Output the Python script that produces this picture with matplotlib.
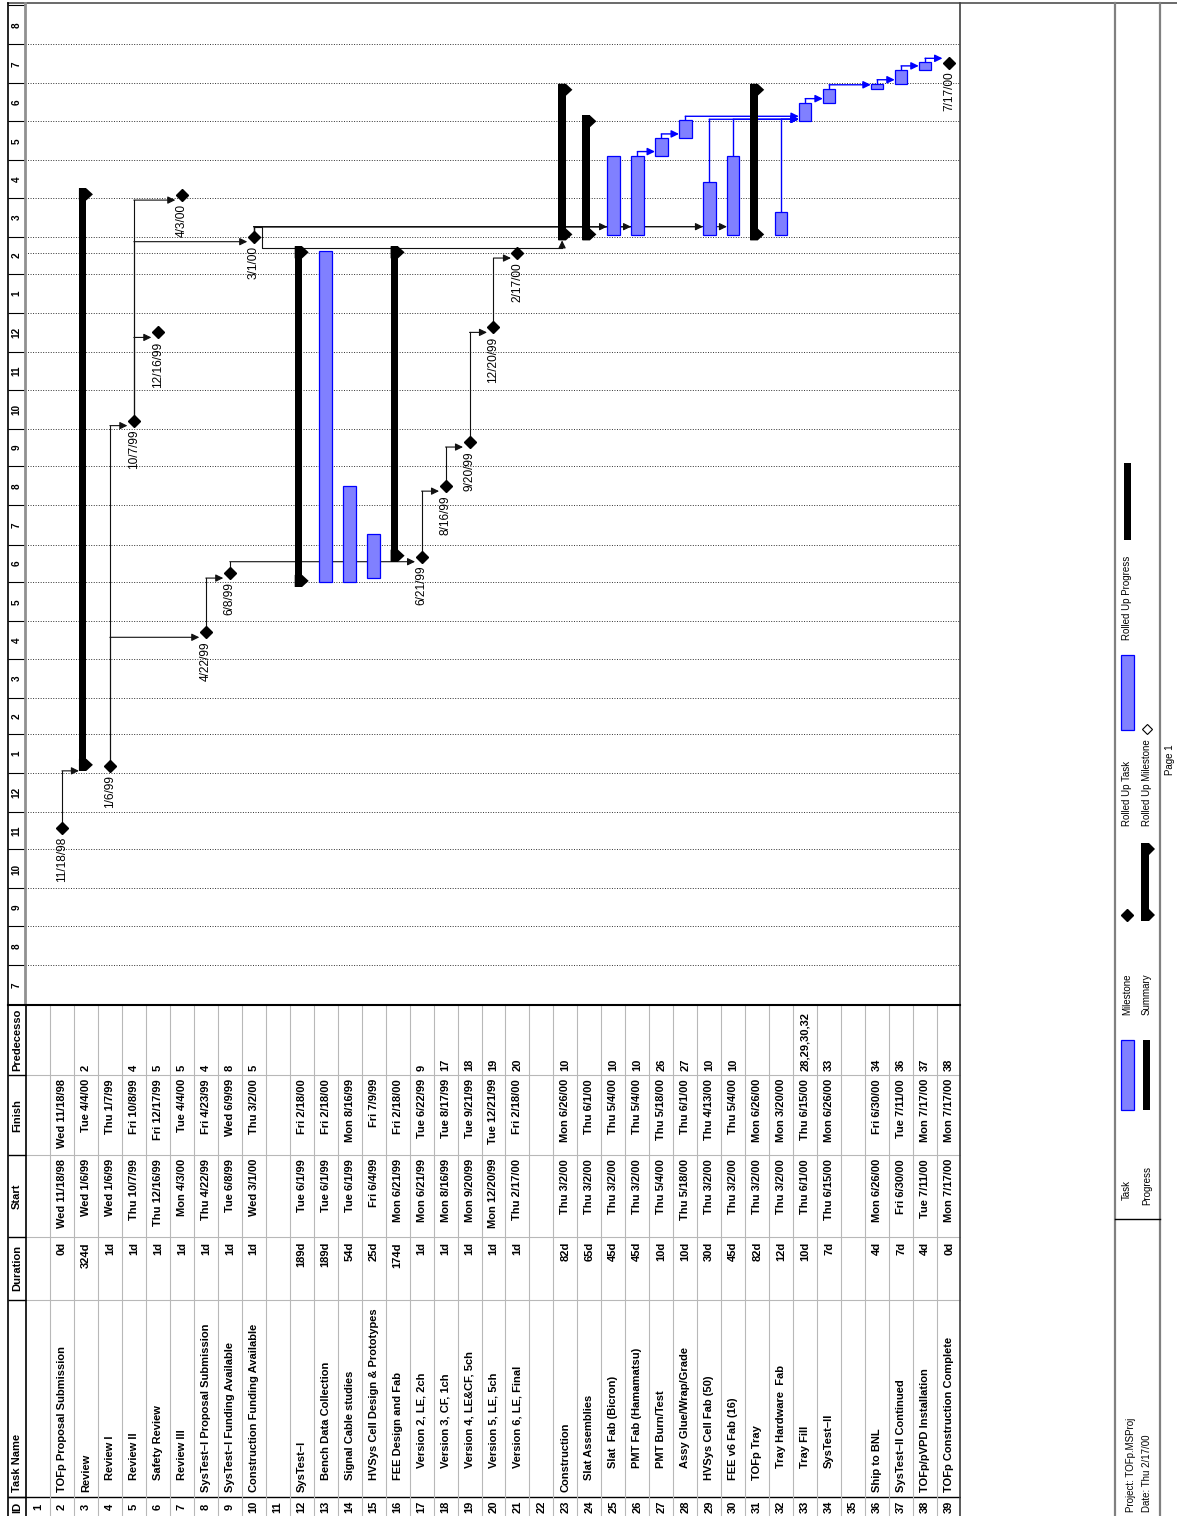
import matplotlib
matplotlib.use('Agg')
import matplotlib.pyplot as plt
import matplotlib.dates as mdates
from matplotlib.patches import Polygon, Rectangle
from datetime import datetime

plt.rcParams['font.family'] = ['Liberation Sans', 'DejaVu Sans']

# ---- project table -------------------------------------------------------
task_ids = list(range(1, 40))
task_names = [
    '', 'TOFp Proposal Submission', 'Review', 'Review I', 'Review II',
    'Safety Review', 'Review III', 'SysTest–I Proposal Submission',
    'SysTest–I Funding Available', 'Construction Funding Available', '',
    'SysTest–I', 'Bench Data Collection', 'Signal Cable studies',
    'HVSys Cell Design & Prototypes', 'FEE Design and Fab',
    'Version 2, LE, 2ch', 'Version 3, CF, 1ch', 'Version 4, LE&CF, 5ch',
    'Version 5, LE, 5ch', 'Version 6, LE, Final', '',
    'Construction', 'Slat Assemblies', 'Slat  Fab (Bicron)',
    'PMT Fab (Hamamatsu)', 'PMT Burn/Test', 'Assy Glue/Wrap/Grade',
    'HVSys Cell Fab (50)', 'FEE v6 Fab (16)', 'TOFp Tray',
    'Tray Hardware  Fab', 'Tray Fill', 'SysTest–II', '',
    'Ship to BNL', 'SysTest–II Continued', 'TOFp/pVPD Installation',
    'TOFp Construction Complete',
]
outline_level = [0, 0, 0, 1, 1, 1, 1, 0, 0, 0, 0,
                 0, 1, 1, 1, 1, 2, 2, 2, 2, 2, 0,
                 0, 1, 2, 2, 2, 2, 1, 1, 1, 2, 2, 2, 0,
                 0, 0, 0, 0]
bar_kind = (['none', 'milestone', 'summary'] + ['milestone'] * 7 + ['none',
            'summary', 'task', 'task', 'task', 'summary'] + ['milestone'] * 5 +
            ['none', 'summary', 'summary'] + ['task'] * 6 +
            ['summary', 'task', 'task', 'task', 'none', 'task', 'task', 'task', 'milestone'])
durations = ['', '0d', '324d', '1d', '1d', '1d', '1d', '1d', '1d', '1d', '',
             '189d', '189d', '54d', '25d', '174d', '1d', '1d', '1d', '1d', '1d', '',
             '82d', '65d', '45d', '45d', '10d', '10d', '30d', '45d', '82d', '12d',
             '10d', '7d', '', '4d', '7d', '4d', '0d']
start_text = ['', 'Wed 11/18/98', 'Wed 1/6/99', 'Wed 1/6/99', 'Thu 10/7/99',
              'Thu 12/16/99', 'Mon 4/3/00', 'Thu 4/22/99', 'Tue 6/8/99', 'Wed 3/1/00', '',
              'Tue 6/1/99', 'Tue 6/1/99', 'Tue 6/1/99', 'Fri 6/4/99', 'Mon 6/21/99',
              'Mon 6/21/99', 'Mon 8/16/99', 'Mon 9/20/99', 'Mon 12/20/99', 'Thu 2/17/00', '',
              'Thu 3/2/00', 'Thu 3/2/00', 'Thu 3/2/00', 'Thu 3/2/00', 'Thu 5/4/00',
              'Thu 5/18/00', 'Thu 3/2/00', 'Thu 3/2/00', 'Thu 3/2/00', 'Thu 3/2/00',
              'Thu 6/1/00', 'Thu 6/15/00', '', 'Mon 6/26/00', 'Fri 6/30/00',
              'Tue 7/11/00', 'Mon 7/17/00']
finish_text = ['', 'Wed 11/18/98', 'Tue 4/4/00', 'Thu 1/7/99', 'Fri 10/8/99',
               'Fri 12/17/99', 'Tue 4/4/00', 'Fri 4/23/99', 'Wed 6/9/99', 'Thu 3/2/00', '',
               'Fri 2/18/00', 'Fri 2/18/00', 'Mon 8/16/99', 'Fri 7/9/99', 'Fri 2/18/00',
               'Tue 6/22/99', 'Tue 8/17/99', 'Tue 9/21/99', 'Tue 12/21/99', 'Fri 2/18/00', '',
               'Mon 6/26/00', 'Thu 6/1/00', 'Thu 5/4/00', 'Thu 5/4/00', 'Thu 5/18/00',
               'Thu 6/1/00', 'Thu 4/13/00', 'Thu 5/4/00', 'Mon 6/26/00', 'Mon 3/20/00',
               'Thu 6/15/00', 'Mon 6/26/00', '', 'Fri 6/30/00', 'Tue 7/11/00',
               'Mon 7/17/00', 'Mon 7/17/00']
predecessors = ['', '', '2', '', '4', '5', '5', '4', '8', '5', '',
                '', '', '', '', '', '9', '17', '18', '19', '20', '',
                '10', '', '10', '10', '26', '27', '10', '10', '', '', '28,29,30,32',
                '33', '', '34', '36', '37', '38']

timescale_start = datetime(1998, 7, 1)
timescale_end = datetime(2000, 9, 2)
status_date = datetime(2000, 2, 17)

BLUE_FILL = '#8080ff'
BLUE_EDGE = '#0000ff'


def to_num(s, hour=0.0):
    if not s:
        return None
    return mdates.date2num(datetime.strptime(s.split()[1], '%m/%d/%y')) + hour


start = {t: to_num(s, 0.33) for t, s in zip(task_ids, start_text)}
finish = {t: to_num(s, 0.71) for t, s in zip(task_ids, finish_text)}
kind = dict(zip(task_ids, bar_kind))

W, H = 1177, 1516
fig = plt.figure(figsize=(W / 100, H / 100), dpi=100)


def axes_at(x0, y0, x1, y1):
    return fig.add_axes([x0 / W, 1 - y1 / H, (x1 - x0) / W, (y1 - y0) / H])


t0 = mdates.date2num(timescale_start)
t1 = mdates.date2num(timescale_end)
ROW_PX = (961 - 8) / 39.75
DAY_PX = (1004.4 - 4) / (t1 - t0)


def rows(px):
    return px / ROW_PX


def days(px):
    return px / DAY_PX


# ---- gantt area: x = task row, y = date (later dates upward) --------------
gantt = axes_at(8, 4, 961, 1004.4)
gantt.set_xlim(-0.25, 39.5)
gantt.set_ylim(t0, t1)
gantt.axis('off')

bounds = [datetime(1998 + (6 + i) // 12, (6 + i) % 12 + 1, 1) for i in range(27)]
bnum = mdates.date2num(bounds)
dots = (0, (1, 1.6))
gantt.hlines(bnum[1:-1], 0.47, 39.45, colors='#303030', linestyles=dots, lw=0.7, zorder=1)
gantt.hlines(mdates.date2num(status_date), 0.47, 39.45, colors='#303030',
             linestyles=dots, lw=0.7, zorder=1)

# timescale column
gantt.hlines(bnum[1:], -0.25, 0.47, colors='k', lw=0.8)
for a, b, d in zip(bnum[:-1], bnum[1:], bounds[:-1]):
    gantt.text(0.11, (a + b) / 2, str(d.month), rotation=90, ha='center',
               va='center', fontsize=7.2, fontweight='bold')

# bars
for t in task_ids:
    k = kind[t]
    if k == 'task':
        gantt.bar(t, finish[t] - start[t], bottom=start[t], width=rows(12.5),
                  color=BLUE_FILL, edgecolor=BLUE_EDGE, lw=0.9, zorder=3)
    elif k == 'summary':
        lo = start[t] - days(5)
        hi = finish[t] + days(5)
        x0, x1 = t - rows(7), t + rows(0.5)
        gantt.bar((x0 + x1) / 2, hi - lo, bottom=lo, width=x1 - x0,
                  color='k', lw=0, zorder=3)
        cap, tip = days(12), rows(6.5)
        for end, sgn in ((lo, 1), (hi, -1)):
            gantt.add_patch(Polygon([(x0, end), (x1, end), (x1 + tip, end + sgn * cap / 2),
                                     (x1, end + sgn * cap), (x0, end + sgn * cap)],
                                    closed=True, color='k', lw=0, zorder=3))
    elif k == 'milestone':
        gantt.plot(t, start[t], marker='D', ms=6.4, color='k', zorder=4)
        gantt.text(t, start[t] - days(9), start_text[t - 1].split()[1], rotation=90,
                   ha='center', va='top', fontsize=8.6)

# dependency links (finish-to-start)
for s, plist in zip(task_ids, predecessors):
    for p in [int(v) for v in plist.split(',') if v]:
        col = BLUE_EDGE if kind[p] == 'task' else '#111111'
        lw = 1.0 if kind[p] == 'task' else 0.8
        arrow = dict(arrowstyle='-|>,head_length=0.45,head_width=0.22',
                     shrinkA=0, shrinkB=0, lw=lw, color=col)
        if kind[p] == 'milestone':
            y_from, y_out = start[p], start[p] + days(6)
        else:
            y_from = y_out = finish[p]
        a = y_out + days(4)
        if kind[s] == 'task':
            b, tip_x = start[s] + days(1.5), s - rows(6.3)
        elif kind[s] == 'milestone':
            b, tip_x = start[s] - days(5), s - rows(6.5)
        else:
            b, tip_x = start[s] - days(5), s - rows(7)
        if kind[s] == 'summary' and a > b:
            jog = p + rows(8)
            low = start[s] - days(13)
            bar_x = s - rows(3.3)
            gantt.plot([p, p, jog, jog, bar_x], [y_from, a, a, low, low],
                       color=col, lw=lw, zorder=2)
            gantt.annotate('', xy=(bar_x, start[s] - days(5)), xytext=(bar_x, low),
                           arrowprops=arrow, zorder=2)
        else:
            level = max(a, b)
            gantt.plot([p, p], [y_from, level], color=col, lw=lw, zorder=2)
            gantt.annotate('', xy=(tip_x, level), xytext=(p, level),
                           arrowprops=arrow, zorder=2)

# ---- task table under the gantt (rotated page) ----------------------------
tab = axes_at(8, 1005, 961, 1516)
tab.set_xlim(-0.25, 39.5)
tab.set_ylim(1516, 1005)
tab.axis('off')

col_edges = [1497, 1300, 1237, 1155, 1075]
tab.hlines(col_edges[1:], 0.5, 39.5, colors='#b8b8b8', lw=0.8)
tab.hlines(col_edges[0], -0.25, 39.5, colors='k', lw=1.0)
tab.hlines(col_edges, -0.25, 0.5, colors='k', lw=1.0)
tab.vlines([t + 0.5 for t in task_ids], 1005, 1516, colors='#b8b8b8', lw=0.8)
tab.vlines(0.5, 1005, 1516, colors='k', lw=1.2)

tfont = dict(rotation=90, ha='center', fontsize=8.0, fontweight='bold')
tab.text(0.12, 1507, 'ID', va='center', **tfont)
tab.text(0.12, 1492, 'Task Name', va='bottom', **tfont)
tab.text(0.12, 1268, 'Duration', va='center', **tfont)
tab.text(0.12, 1196, 'Start', va='center', **tfont)
tab.text(0.12, 1115, 'Finish', va='center', **tfont)
tab.text(0.12, 1040, 'Predecesso', va='center', **tfont)

for t, name, lvl, dur, st, fi, pr in zip(task_ids, task_names, outline_level, durations,
                                         start_text, finish_text, predecessors):
    tab.text(t, 1507, str(t), va='center', **tfont)
    tab.text(t, 1492 - 12 * lvl, name, va='bottom', **tfont)
    tab.text(t, 1242, dur, va='top', **tfont)
    tab.text(t, 1159, st, va='top', **tfont)
    tab.text(t, 1079, fi, va='top', **tfont)
    tab.text(t, 1071, pr, va='bottom', **tfont)

# ---- page frame and legend ------------------------------------------------
page = fig.add_axes([0, 0, 1, 1])
page.set_xlim(0, W)
page.set_ylim(H, 0)
page.axis('off')

page.plot([8, W], [3, 3], color='#505050', lw=1.2)
page.plot([8, 8], [3, H], color='k', lw=1.2)
page.plot([960, 960], [3, H], color='#404040', lw=1.2)
page.plot([25, 25], [3, 1004], color='#909090', lw=2)
page.plot([8, 960], [1005, 1005], color='k', lw=1.5)
page.plot([1115, 1115], [3, H], color='#808080', lw=1.6)
page.plot([1160, 1160], [3, H], color='#808080', lw=1.6)
page.plot([1115, 1160], [1219, 1219], color='k', lw=1.0)

lfont = dict(rotation=90, ha='center', va='bottom', fontsize=7)
page.text(1131, 1512, 'Project: TOFp.MSProj', **lfont)
page.text(1147, 1512, 'Date: Thu 2/17/00', **lfont)
page.text(1127, 1200, 'Task', **lfont)
page.text(1147, 1205, 'Progress', **lfont)
page.text(1127, 1015, 'Milestone', **lfont)
page.text(1147, 1015, 'Summary', **lfont)
page.text(1127, 826, 'Rolled Up Task', **lfont)
page.text(1147, 826, 'Rolled Up Milestone', **lfont)
page.text(1127, 640, 'Rolled Up Progress', **lfont)
page.text(1170, 760, 'Page 1', rotation=90, ha='center', va='center', fontsize=7)

page.add_patch(Rectangle((1121, 1040), 13, 70, fc=BLUE_FILL, ec=BLUE_EDGE, lw=0.9))
page.add_patch(Rectangle((1143, 1040), 7, 70, fc='k', ec='none'))
page.plot(1127, 915, marker='D', ms=6, color='k')
page.add_patch(Rectangle((1141, 845), 8, 74, fc='k', ec='none'))
for end, sgn in ((921, -1), (843, 1)):
    page.add_patch(Polygon([(1141, end), (1149, end), (1155, end + sgn * 6),
                            (1149, end + sgn * 12), (1141, end + sgn * 12)],
                           closed=True, fc='k', ec='none'))
page.add_patch(Rectangle((1121, 655), 13, 75, fc=BLUE_FILL, ec=BLUE_EDGE, lw=0.9))
page.plot(1147, 729, marker='D', ms=5, mfc='white', mec='k', mew=0.8)
page.add_patch(Rectangle((1124, 463), 7, 77, fc='k', ec='none'))

fig.savefig('out.png', dpi=100)
